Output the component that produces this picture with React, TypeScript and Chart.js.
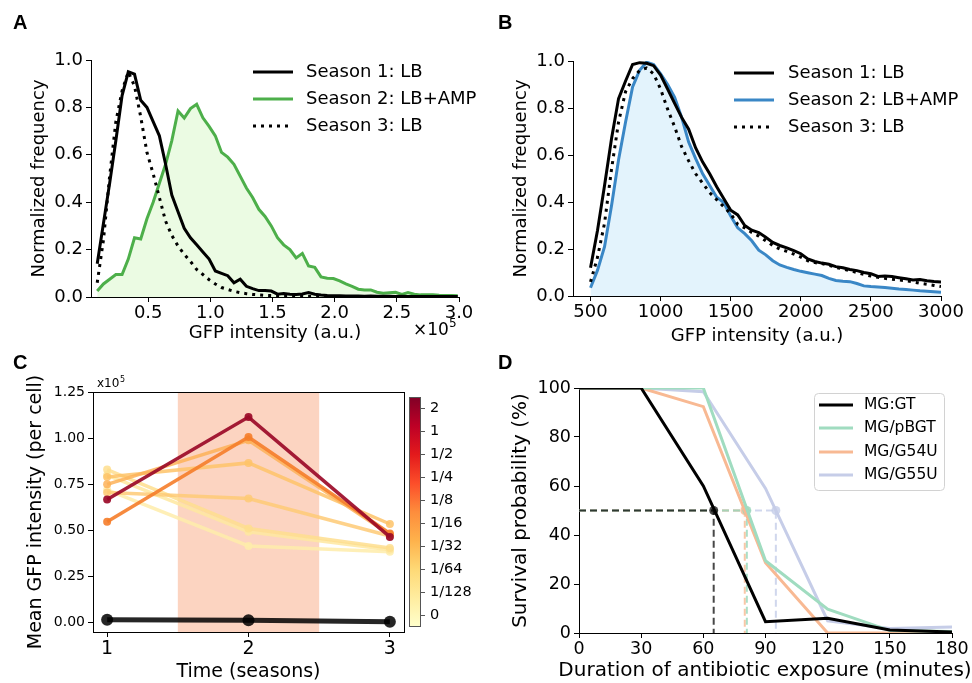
import React, { useEffect, useRef } from "react";
import { Chart, registerables } from "chart.js";

Chart.register(...registerables);

if (typeof document !== "undefined") {
  document.body.style.margin = "0";
  document.body.style.background = "#ffffff";
}

const DV = "DejaVu Sans";
const LS = "Liberation Sans";

// ---------------- Panel A (GFP intensity x10^5) ----------------
const xA = [0.09, 0.14, 0.19, 0.24, 0.29, 0.34, 0.39, 0.44, 0.49, 0.54,
  0.59, 0.64, 0.69, 0.74, 0.79, 0.84, 0.89, 0.94, 0.99, 1.04,
  1.09, 1.14, 1.19, 1.24, 1.29, 1.34, 1.39, 1.44, 1.49, 1.54,
  1.59, 1.64, 1.69, 1.74, 1.79, 1.84, 1.89, 1.94, 1.99, 2.04,
  2.09, 2.14, 2.19, 2.24, 2.29, 2.34, 2.39, 2.44, 2.49, 2.54,
  2.59, 2.64, 2.69, 2.74, 2.79, 2.84, 2.89, 2.94, 2.99];
const season1A = [0.14, 0.31, 0.48, 0.66, 0.85, 0.95, 0.94, 0.83, 0.80, 0.74,
  0.68, 0.56, 0.43, 0.36, 0.29, 0.25, 0.22, 0.19, 0.16, 0.11,
  0.10, 0.09, 0.06, 0.075, 0.045, 0.035, 0.027, 0.027, 0.025, 0.012,
  0.015, 0.012, 0.011, 0.013, 0.019, 0.012, 0.008, 0.006, 0.005, 0.005,
  0.004, 0.004, 0.004, 0.003, 0.004, 0.003, 0.003, 0.003, 0.002, 0.003,
  0.002, 0.002, 0.002, 0.002, 0.002, 0.002, 0.002, 0.002, 0.002];
const season2A = [0.025, 0.055, 0.075, 0.095, 0.095, 0.16, 0.25, 0.245, 0.33, 0.40,
  0.48, 0.56, 0.66, 0.785, 0.755, 0.795, 0.813, 0.756, 0.72, 0.68,
  0.61, 0.59, 0.56, 0.51, 0.46, 0.42, 0.37, 0.34, 0.30, 0.25,
  0.22, 0.20, 0.165, 0.184, 0.131, 0.125, 0.085, 0.079, 0.078, 0.068,
  0.055, 0.045, 0.033, 0.03, 0.03, 0.02, 0.016, 0.018, 0.02, 0.011,
  0.019, 0.012, 0.009, 0.009, 0.009, 0.007, 0.006, 0.006, 0.005];
const season3A = [0.06, 0.24, 0.51, 0.74, 0.87, 0.95, 0.89, 0.76, 0.61, 0.52,
  0.42, 0.32, 0.26, 0.215, 0.18, 0.15, 0.116, 0.095, 0.073, 0.055,
  0.04, 0.032, 0.024, 0.018, 0.014, 0.011, 0.009, 0.007, 0.006, 0.005,
  0.004, 0.004, 0.003, 0.003, 0.003, 0.002, 0.002, 0.002, 0.002, 0.002,
  0.002, 0.002, 0.001, 0.001, 0.001, 0.001, 0.001, 0.001, 0.001, 0.001,
  0.001, 0.001, 0.001, 0.001, 0.001, 0.001, 0.001, 0.001, 0.001];
const xTicksA = [0.5, 1.0, 1.5, 2.0, 2.5, 3.0];
const xTickLabelsA = ["0.5", "1.0", "1.5", "2.0", "2.5", "3.0"];
const yTicksAB = [0, 0.2, 0.4, 0.6, 0.8, 1.0];
const yTickLabelsAB = ["0.0", "0.2", "0.4", "0.6", "0.8", "1.0"];

// ---------------- Panel B ----------------
const xB = [500, 550, 600, 650, 700, 750, 800, 850, 900, 950,
  1000, 1050, 1100, 1150, 1200, 1250, 1300, 1350, 1400, 1450,
  1500, 1550, 1600, 1650, 1700, 1750, 1800, 1850, 1900, 1950,
  2000, 2050, 2100, 2150, 2200, 2250, 2300, 2350, 2400, 2450,
  2500, 2550, 2600, 2650, 2700, 2750, 2800, 2850, 2900, 2950, 3000];
const season1B = [0.12, 0.28, 0.47, 0.67, 0.84, 0.915, 0.985, 0.993, 0.99, 0.98,
  0.94, 0.88, 0.82, 0.76, 0.71, 0.63, 0.57, 0.52, 0.465, 0.415,
  0.365, 0.345, 0.30, 0.28, 0.27, 0.25, 0.228, 0.215, 0.205, 0.193,
  0.18, 0.158, 0.147, 0.14, 0.135, 0.125, 0.12, 0.113, 0.108, 0.10,
  0.095, 0.083, 0.085, 0.083, 0.078, 0.073, 0.068, 0.07, 0.065, 0.062, 0.06];
const season2B = [0.035, 0.11, 0.21, 0.385, 0.58, 0.74, 0.89, 0.96, 0.995, 0.985,
  0.945, 0.90, 0.845, 0.76, 0.655, 0.585, 0.52, 0.47, 0.42, 0.398,
  0.34, 0.29, 0.265, 0.235, 0.195, 0.175, 0.15, 0.132, 0.122, 0.113,
  0.105, 0.099, 0.093, 0.087, 0.075, 0.066, 0.063, 0.061, 0.053, 0.043,
  0.04, 0.038, 0.036, 0.033, 0.03, 0.028, 0.025, 0.022, 0.02, 0.018, 0.016];
const season3B = [0.06, 0.165, 0.31, 0.54, 0.74, 0.87, 0.925, 0.96, 0.97, 0.945,
  0.88, 0.795, 0.72, 0.635, 0.575, 0.52, 0.48, 0.44, 0.41, 0.38,
  0.35, 0.305, 0.29, 0.27, 0.255, 0.235, 0.215, 0.2, 0.19, 0.178,
  0.165, 0.15, 0.142, 0.138, 0.13, 0.122, 0.115, 0.108, 0.1, 0.092,
  0.085, 0.08, 0.075, 0.071, 0.068, 0.065, 0.06, 0.054, 0.05, 0.045, 0.04];
const xTicksB = [500, 1000, 1500, 2000, 2500, 3000];
const xTickLabelsB = ["500", "1000", "1500", "2000", "2500", "3000"];

// ---------------- Panel C (mean GFP x10^5) ----------------
const seasonsC = [1, 2, 3];
const conc2 = [0.668, 1.114, 0.465];
const conc8th = [0.547, 1.006, 0.484];
const conc16th = [0.75, 0.988, 0.478];
const conc32nd = [0.79, 0.866, 0.535];
const conc64th = [0.705, 0.673, 0.47];
const conc128th = [0.83, 0.511, 0.405];
const concZeroA = [0.80, 0.493, 0.395];
const concZeroB = [0.72, 0.416, 0.385];
const controlC = [0.016, 0.014, 0.006];
const spanC = [1.5, 2.5];
const xTicksC = [1, 2, 3];
const xTickLabelsC = ["1", "2", "3"];
const yTicksC = [0, 0.25, 0.5, 0.75, 1.0, 1.25];
const yTickLabelsC = ["0.00", "0.25", "0.50", "0.75", "1.00", "1.25"];
const cbarLabels = ["0", "1/128", "1/64", "1/32", "1/16", "1/8", "1/4", "1/2", "1", "2"];
const ylOrRd = ["#ffffcc", "#ffeda0", "#fed976", "#feb24c", "#fd8d3c", "#fc4e2a", "#e31a1c", "#bd0026", "#800026"];

// ---------------- Panel D ----------------
const minutesD = [0, 30, 60, 90, 120, 150, 180];
const survGT = [100, 100, 60, 4.6, 6.0, 1.2, 0.4];
const survPBGT = [100, 100, 100, 29.5, 9.7, 1.0, 0.6];
const survG54U = [100, 100, 92.4, 28.7, 0, 0, 0];
const survG55U = [100, 100, 98.5, 59, 5.0, 1.8, 2.4];
const halfD = 50;
const t50D = [65, 81, 80, 95]; // GT, pBGT, G54U, G55U
const xTicksD = [0, 30, 60, 90, 120, 150, 180];
const xTickLabelsD = ["0", "30", "60", "90", "120", "150", "180"];
const yTicksD = [0, 20, 40, 60, 80, 100];
const yTickLabelsD = ["0", "20", "40", "60", "80", "100"];

// ---------------- helpers ----------------
function pts(xs: number[], ys: number[]) {
  return xs.map((x, i) => ({ x, y: ys[i] }));
}

function scale(o: any) {
  return {
    type: "linear",
    min: o.min,
    max: o.max,
    position: o.horizontal ? "bottom" : "left",
    afterBuildTicks: (s: any) => {
      s.ticks = o.ticks.map((v: number) => ({ value: v }));
    },
    afterFit: (s: any) => {
      if (o.horizontal) s.height = o.fixed;
      else s.width = o.fixed;
    },
    ticks: {
      callback: (_v: any, i: number) => o.labels[i],
      font: { family: o.family, size: o.size },
      color: "#000",
      padding: o.horizontal ? 1 : 3,
      autoSkip: false,
      maxRotation: 0,
      minRotation: 0,
    },
    grid: { drawOnChartArea: false, drawTicks: true, tickLength: 5, tickColor: "#000", tickWidth: 1 },
    border: { display: true, color: "#000", width: 1 },
    title: {
      display: !!o.title,
      text: o.title || "",
      color: "#000",
      font: { family: o.family, size: o.titleSize },
      padding: o.titlePad,
    },
  };
}

function textPlugin(id: string, items: any[]) {
  return {
    id,
    afterDraw(chart: any) {
      const ctx = chart.ctx;
      ctx.save();
      items.forEach((t) => {
        ctx.font = t.font;
        ctx.fillStyle = "#000";
        ctx.textAlign = t.align || "left";
        ctx.textBaseline = t.baseline || "alphabetic";
        ctx.fillText(t.text, t.x, t.y);
      });
      ctx.restore();
    },
  };
}

function legendPlugin(o: any) {
  return {
    id: "customLegend",
    afterDraw(chart: any) {
      const ctx = chart.ctx;
      ctx.save();
      if (o.box) {
        ctx.beginPath();
        if (ctx.roundRect) ctx.roundRect(o.box.x + 0.5, o.box.y + 0.5, o.box.w, o.box.h, 4);
        else ctx.rect(o.box.x + 0.5, o.box.y + 0.5, o.box.w, o.box.h);
        ctx.fillStyle = "rgba(255,255,255,0.8)";
        ctx.fill();
        ctx.strokeStyle = "#d2d2d2";
        ctx.lineWidth = 1;
        ctx.stroke();
      }
      o.order.forEach((di: number, k: number) => {
        const ds = chart.data.datasets[di];
        const y = o.ys[k];
        ctx.beginPath();
        ctx.setLineDash(ds.borderDash || []);
        ctx.strokeStyle = ds.borderColor;
        ctx.lineWidth = ds.borderWidth;
        ctx.lineCap = "butt";
        ctx.moveTo(o.x0, y);
        ctx.lineTo(o.x1, y);
        ctx.stroke();
        ctx.setLineDash([]);
        ctx.fillStyle = "#000";
        ctx.font = o.font;
        ctx.textAlign = "left";
        ctx.textBaseline = "middle";
        ctx.fillText(ds.label, o.xt, y);
      });
      ctx.restore();
    },
  };
}

const baseOptions = (padding: any, scales: any) => ({
  responsive: false,
  maintainAspectRatio: false,
  animation: false,
  layout: { padding },
  plugins: { legend: { display: false }, tooltip: { enabled: false } },
  elements: { line: { tension: 0 }, point: { radius: 0 } },
  scales,
});

// ---------------- configs ----------------
function configA() {
  return {
    type: "line",
    data: {
      datasets: [
        { label: "Season 1: LB", data: pts(xA, season1A), borderColor: "#000000", borderWidth: 3, pointRadius: 0, fill: false },
        { label: "Season 3: LB", data: pts(xA, season3A), borderColor: "#000000", borderWidth: 3, borderDash: [3, 5], pointRadius: 0, fill: false },
        { label: "Season 2: LB+AMP", data: pts(xA, season2A), borderColor: "#4daf4a", backgroundColor: "#ebfbe3", borderWidth: 3, pointRadius: 0, fill: "origin" },
      ],
    },
    options: baseOptions({ left: 0, top: 60, right: 27, bottom: 0 }, {
      x: scale({ horizontal: true, min: 0.04, max: 3.0, ticks: xTicksA, labels: xTickLabelsA, family: DV, size: 18, fixed: 48, title: "GFP intensity (a.u.)", titleSize: 18, titlePad: { top: 0, bottom: 1 } }),
      y: scale({ horizontal: false, min: 0, max: 1.0, ticks: yTicksAB, labels: yTickLabelsAB, family: DV, size: 18, fixed: 91, title: "Normalized frequency", titleSize: 18, titlePad: { top: 29, bottom: 0 } }),
    }),
    plugins: [
      legendPlugin({ order: [0, 2, 1], x0: 253, x1: 293, xt: 306, ys: [72, 99, 126], font: `18px '${DV}'` }),
      textPlugin("textsA", [
        { text: "A", x: 13, y: 29, font: `bold 20px '${LS}'` },
        { text: "×10", x: 413, y: 335, font: `17px '${DV}'` },
        { text: "5", x: 449, y: 327, font: `12px '${DV}'` },
      ]),
    ],
  };
}

function configB() {
  return {
    type: "line",
    data: {
      datasets: [
        { label: "Season 1: LB", data: pts(xB, season1B), borderColor: "#000000", borderWidth: 3, pointRadius: 0, fill: false },
        { label: "Season 3: LB", data: pts(xB, season3B), borderColor: "#000000", borderWidth: 3, borderDash: [3, 5], pointRadius: 0, fill: false },
        { label: "Season 2: LB+AMP", data: pts(xB, season2B), borderColor: "#3a87c6", backgroundColor: "#e3f3fc", borderWidth: 3, pointRadius: 0, fill: "origin" },
      ],
    },
    options: baseOptions({ left: 0, top: 61, right: 31, bottom: 0 }, {
      x: scale({ horizontal: true, min: 375, max: 3000, ticks: xTicksB, labels: xTickLabelsB, family: DV, size: 18, fixed: 54, title: "GFP intensity (a.u.)", titleSize: 18, titlePad: { top: 0, bottom: 3 } }),
      y: scale({ horizontal: false, min: 0, max: 1.0, ticks: yTicksAB, labels: yTickLabelsAB, family: DV, size: 18, fixed: 87, title: "Normalized frequency", titleSize: 18, titlePad: { top: 25, bottom: 0 } }),
    }),
    plugins: [
      legendPlugin({ order: [0, 2, 1], x0: 248, x1: 288, xt: 302, ys: [73, 100, 127], font: `18px '${DV}'` }),
      textPlugin("textsB", [{ text: "B", x: 12, y: 29, font: `bold 20px '${LS}'` }]),
    ],
  };
}

function configC() {
  const line = (label: string, ys: number[], color: string, w = 3.5, r = 4) => ({
    label,
    data: pts(seasonsC, ys),
    borderColor: color,
    backgroundColor: color,
    pointBackgroundColor: color,
    pointBorderColor: color,
    pointBorderWidth: 0,
    borderWidth: w,
    pointRadius: r,
    fill: false,
  });
  const spanPlugin = {
    id: "span",
    beforeDatasetsDraw(chart: any) {
      const { ctx, chartArea, scales } = chart;
      const x1 = scales.x.getPixelForValue(spanC[0]);
      const x2 = scales.x.getPixelForValue(spanC[1]);
      ctx.save();
      ctx.fillStyle = "#fcd4c1";
      ctx.fillRect(x1, chartArea.top, x2 - x1, chartArea.bottom - chartArea.top);
      ctx.restore();
    },
    afterDatasetsDraw(chart: any) {
      const { ctx, chartArea } = chart;
      ctx.save();
      ctx.strokeStyle = "#000";
      ctx.lineWidth = 1;
      ctx.strokeRect(Math.round(chartArea.left) + 0.5, Math.round(chartArea.top) + 0.5, Math.round(chartArea.right - chartArea.left), Math.round(chartArea.bottom - chartArea.top));
      ctx.restore();
    },
  };
  const cbarPlugin = {
    id: "cbar",
    afterDraw(chart: any) {
      const { ctx, chartArea } = chart;
      const x0 = chartArea.right + 5;
      const x1 = x0 + 12;
      const yTop = chartArea.top + 5;
      const yBot = chartArea.bottom - 5;
      ctx.save();
      const g = ctx.createLinearGradient(0, yBot, 0, yTop);
      ylOrRd.forEach((c, i) => g.addColorStop(i / (ylOrRd.length - 1), c));
      ctx.fillStyle = g;
      ctx.fillRect(x0, yTop, x1 - x0, yBot - yTop);
      ctx.strokeStyle = "#555";
      ctx.lineWidth = 1;
      ctx.strokeRect(x0 + 0.5, yTop + 0.5, x1 - x0 - 1, yBot - yTop - 1);
      const step = (yBot - yTop) / cbarLabels.length;
      ctx.font = `14.5px '${DV}'`;
      ctx.fillStyle = "#000";
      ctx.textAlign = "left";
      ctx.textBaseline = "middle";
      cbarLabels.forEach((lab, i) => {
        const y = yBot - step * (i + 0.5);
        ctx.beginPath();
        ctx.moveTo(x1, y);
        ctx.lineTo(x1 + 4, y);
        ctx.stroke();
        ctx.fillText(lab, x1 + 9, y);
      });
      ctx.restore();
    },
  };
  return {
    type: "line",
    data: {
      datasets: [
        line("2", conc2, "rgba(155,10,40,0.92)"),
        line("1/8", conc8th, "rgba(245,125,42,0.9)"),
        line("1/16", conc16th, "rgba(253,178,88,0.85)"),
        line("1/32", conc32nd, "rgba(254,195,105,0.85)"),
        line("1/64", conc64th, "rgba(254,202,118,0.85)"),
        line("1/128", conc128th, "rgba(254,222,142,0.85)"),
        line("0", concZeroA, "rgba(254,232,160,0.85)"),
        line("0b", concZeroB, "rgba(254,236,170,0.85)"),
        line("control", controlC, "rgba(0,0,0,0.85)", 5, 6),
      ],
    },
    options: baseOptions({ left: 0, top: 52, right: 82, bottom: 0 }, {
      x: scale({ horizontal: true, min: 0.9, max: 3.1, ticks: xTicksC, labels: xTickLabelsC, family: DV, size: 19, fixed: 51, title: "Time (seasons)", titleSize: 19, titlePad: { top: 0, bottom: 0 } }),
      y: scale({ horizontal: false, min: -0.05, max: 1.25, ticks: yTicksC, labels: yTickLabelsC, family: DV, size: 14, fixed: 93, title: "Mean GFP intensity (per cell)", titleSize: 19, titlePad: { top: 25, bottom: 0 } }),
    }),
    plugins: [
      spanPlugin,
      cbarPlugin,
      textPlugin("textsC", [
        { text: "C", x: 13, y: 29, font: `bold 20px '${LS}'` },
        { text: "x10", x: 97, y: 47, font: `12px '${DV}'` },
        { text: "5", x: 120, y: 42, font: `8px '${DV}'` },
      ]),
    ],
  };
}

function configD() {
  const solid = (label: string, ys: number[], color: string) => ({
    label, data: pts(minutesD, ys), borderColor: color, borderWidth: 3, pointRadius: 0, fill: false,
  });
  const dash = (t: number, color: string) => ({
    label: "",
    data: [{ x: 0, y: halfD }, { x: t, y: halfD }, { x: t, y: 0 }],
    borderColor: color,
    borderWidth: 2,
    borderDash: [7, 4],
    pointRadius: [0, 4.5, 0],
    pointBackgroundColor: color,
    pointBorderWidth: 0,
    fill: false,
  });
  return {
    type: "line",
    data: {
      datasets: [
        solid("MG:GT", survGT, "#000000"),
        solid("MG/pBGT", survPBGT, "#a0dcc0"),
        solid("MG/G54U", survG54U, "#f8b993"),
        solid("MG/G55U", survG55U, "#c6cde8"),
        dash(t50D[0], "rgba(0,0,0,0.72)"),
        dash(t50D[1], "rgba(150,215,185,0.8)"),
        dash(t50D[2], "rgba(248,185,145,0.8)"),
        dash(t50D[3], "rgba(196,205,232,0.8)"),
      ],
    },
    options: baseOptions({ left: 0, top: 48, right: 20, bottom: 0 }, {
      x: scale({ horizontal: true, min: 0, max: 180, ticks: xTicksD, labels: xTickLabelsD, family: DV, size: 17.5, fixed: 50 }),
      y: scale({ horizontal: false, min: 0, max: 100, ticks: yTicksD, labels: yTickLabelsD, family: DV, size: 17.5, fixed: 93, title: "Survival probability (%)", titleSize: 20, titlePad: { top: 23, bottom: 0 } }),
    }),
    plugins: [
      legendPlugin({ order: [0, 1, 2, 3], x0: 333, x1: 367, xt: 378, ys: [65, 88, 112, 135], font: `15.5px '${DV}'`, box: { x: 328, y: 53, w: 130, h: 97 } }),
      textPlugin("textsD", [
        { text: "D", x: 12, y: 29, font: `bold 20px '${LS}'` },
        { text: "Duration of antibiotic exposure (minutes)", x: 279, y: 331, font: `20px '${DV}'`, align: "center", baseline: "middle" },
      ]),
    ],
  };
}

function Panel(props: { left: number; top: number; width: number; height: number; make: () => any }) {
  const ref = useRef<HTMLCanvasElement | null>(null);
  useEffect(() => {
    const chart = new Chart(ref.current as HTMLCanvasElement, props.make());
    return () => chart.destroy();
  }, []);
  return (
    <canvas
      ref={ref}
      width={props.width}
      height={props.height}
      style={{ position: "absolute", left: props.left, top: props.top, width: props.width, height: props.height }}
    />
  );
}

export default function App() {
  return (
    <div style={{ position: "relative", width: 972, height: 683, background: "#ffffff", overflow: "hidden" }}>
      <Panel left={0} top={0} width={486} height={345} make={configA} />
      <Panel left={486} top={0} width={486} height={350} make={configB} />
      <Panel left={0} top={340} width={486} height={343} make={configC} />
      <Panel left={486} top={340} width={486} height={343} make={configD} />
    </div>
  );
}
